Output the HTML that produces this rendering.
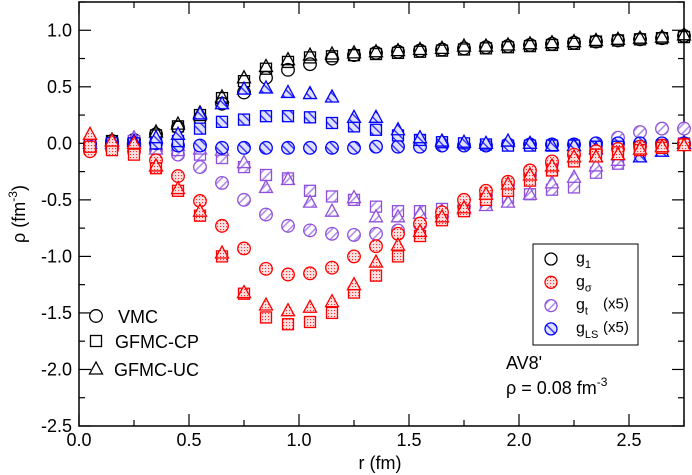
<!DOCTYPE html>
<html><head><meta charset="utf-8"><style>
html,body{margin:0;padding:0;background:#fff;}
svg{display:block;font-family:"Liberation Sans",sans-serif;}
</style></head><body>
<svg id="chart" width="692" height="475" viewBox="0 0 692 475">
<defs>
<pattern id="pDotR" width="3" height="3" patternUnits="userSpaceOnUse"><rect width="3" height="3" fill="#ffe0e0"/><rect x="1" y="1" width="1.1" height="1.1" fill="#ff3030"/></pattern>
<pattern id="pSlashP" width="6" height="6" patternUnits="userSpaceOnUse" patternTransform="rotate(45)"><rect width="6" height="6" fill="#fff"/><rect x="0" y="0" width="1.6" height="6" fill="#b090e8"/></pattern>
<pattern id="pBackB" width="6" height="6" patternUnits="userSpaceOnUse" patternTransform="rotate(-45)"><rect width="6" height="6" fill="#e0e0ff"/><rect x="0" y="0" width="1.4" height="6" fill="#3030ff"/></pattern>
</defs>
<g id="axes"></g>
<g id="marks"></g>
<g id="legends"></g>
</svg>
<script>
const rVals=[0.05,0.15,0.25,0.35,0.45,0.55,0.65,0.75,0.85,0.95,1.05,1.15,1.25,1.35,1.45,1.55,1.65,1.75,1.85,1.95,2.05,2.15,2.25,2.35,2.45,2.55,2.65,2.75];
const g1VMC=[-0.01,0.02,0.03,0.08,0.14,0.22,0.35,0.45,0.58,0.65,0.7,0.75,0.78,0.8,0.81,0.82,0.83,0.84,0.85,0.86,0.87,0.88,0.89,0.9,0.91,0.92,0.93,0.95];
const g1CP=[-0.03,0.02,0.02,0.07,0.15,0.25,0.4,0.55,0.66,0.72,0.76,0.77,0.78,0.79,0.8,0.81,0.82,0.83,0.84,0.85,0.86,0.87,0.88,0.9,0.91,0.92,0.93,0.94];
const g1UC=[0.0,0.03,0.04,0.1,0.17,0.27,0.41,0.58,0.68,0.74,0.78,0.79,0.8,0.81,0.82,0.83,0.84,0.86,0.86,0.87,0.88,0.89,0.9,0.91,0.92,0.93,0.94,0.96];
const gsVMC=[-0.07,-0.05,-0.07,-0.15,-0.29,-0.51,-0.73,-0.93,-1.11,-1.16,-1.15,-1.1,-1.0,-0.91,-0.8,-0.71,-0.61,-0.5,-0.42,-0.34,-0.24,-0.16,-0.1,-0.07,-0.05,-0.03,-0.02,-0.01];
const gsCP=[-0.03,-0.06,-0.1,-0.22,-0.42,-0.64,-1.0,-1.33,-1.54,-1.6,-1.58,-1.5,-1.32,-1.17,-1.0,-0.82,-0.68,-0.6,-0.5,-0.42,-0.33,-0.24,-0.16,-0.1,-0.08,-0.06,-0.04,-0.01];
const gsUC=[0.08,0.02,0.0,-0.2,-0.4,-0.6,-0.97,-1.32,-1.43,-1.48,-1.45,-1.4,-1.25,-1.05,-0.9,-0.78,-0.65,-0.57,-0.45,-0.36,-0.28,-0.2,-0.12,-0.12,-0.1,-0.05,-0.03,-0.02];
const gtVMC=[-0.05,-0.02,-0.03,-0.06,-0.1,-0.21,-0.35,-0.5,-0.63,-0.73,-0.77,-0.8,-0.81,-0.8,-0.77,-0.72,-0.65,-0.56,-0.46,-0.37,-0.28,-0.18,-0.1,-0.03,0.05,0.1,0.13,0.13];
const gtCP=[0.0,0.0,0.02,-0.03,-0.06,-0.1,-0.13,-0.21,-0.28,-0.31,-0.42,-0.47,-0.5,-0.56,-0.6,-0.6,-0.58,-0.55,-0.52,-0.48,-0.45,-0.41,-0.39,-0.26,-0.18,-0.08,-0.04,0.0];
const gtUC=[0.02,0.02,0.05,-0.05,-0.02,-0.05,-0.06,-0.17,-0.39,-0.32,-0.52,-0.6,-0.48,-0.65,-0.65,-0.62,-0.6,-0.58,-0.55,-0.52,-0.45,-0.35,-0.3,-0.2,-0.15,-0.05,-0.02,0.0];
const glsVMC=[0.0,0.0,0.0,0.0,-0.02,-0.02,-0.04,-0.04,-0.04,-0.04,-0.04,-0.04,-0.04,-0.03,-0.03,-0.03,-0.02,-0.02,-0.02,-0.01,-0.01,-0.01,-0.01,0.0,0.0,0.0,0.0,0.0];
const glsCP=[0.0,0.0,0.0,0.0,0.02,0.13,0.19,0.21,0.24,0.24,0.23,0.18,0.15,0.12,0.07,0.03,0.01,0.0,-0.01,-0.02,-0.02,-0.02,-0.02,-0.03,-0.03,-0.03,-0.02,-0.01];
const glsUC=[0.0,0.0,0.02,0.05,0.08,0.26,0.35,0.48,0.49,0.45,0.44,0.41,0.23,0.23,0.12,0.05,0.02,0.01,0.0,0.02,0.0,-0.02,-0.02,-0.05,-0.1,-0.12,-0.07,0.0];
const xTicks=["0.0","0.5","1.0","1.5","2.0","2.5"];
const yTicks=["-2.5","-2.0","-1.5","-1.0","-0.5","0.0","0.5","1.0"];

const NS="http://www.w3.org/2000/svg";
const X0=79,X1=684,Y0=2,Y1=426,XMIN=0,XMAX=2.75,YMIN=-2.5,YMAX=1.25;
function sx(v){return X0+(v-XMIN)/(XMAX-XMIN)*(X1-X0);}
function sy(v){return Y1-(v-YMIN)/(YMAX-YMIN)*(Y1-Y0);}
function mk(tag,attrs,parent){const e=document.createElementNS(NS,tag);for(const k in attrs)e.setAttribute(k,attrs[k]);parent.appendChild(e);return e;}
const axes=document.getElementById('axes'),marks=document.getElementById('marks'),leg=document.getElementById('legends');

const frame=mk('rect',{x:X0,y:Y0,width:X1-X0,height:Y1-Y0,fill:'none',stroke:'#000','stroke-width':1.5},axes);


for(let i=0;i<=11;i++){
  const v=i*0.25,x=sx(v),len=(i%2==0)?12:6;
  mk('line',{x1:x,y1:Y1,x2:x,y2:Y1-len,stroke:'#000','stroke-width':1.2},axes);
  mk('line',{x1:x,y1:Y0,x2:x,y2:Y0+len,stroke:'#000','stroke-width':1.2},axes);
}
xTicks.forEach(t=>{const el=mk('text',{x:sx(parseFloat(t)),y:446,'text-anchor':'middle','font-size':18},axes);el.textContent=t;

});
for(let i=0;i<=15;i++){
  const v=-2.5+i*0.25,y=sy(v),len=(i%2==0)?12:6;
  mk('line',{x1:X0,y1:y,x2:X0+len,y2:y,stroke:'#000','stroke-width':1.2},axes);
  mk('line',{x1:X1,y1:y,x2:X1-len,y2:y,stroke:'#000','stroke-width':1.2},axes);
}
yTicks.forEach(t=>{const el=mk('text',{x:72,y:sy(parseFloat(t))+6,'text-anchor':'end','font-size':18},axes);el.textContent=t;

});
const xt=mk('text',{x:380,y:469,'text-anchor':'middle','font-size':18},axes);xt.textContent='r (fm)';


const yt=mk('text',{x:0,y:0,transform:'translate(25,214) rotate(-90)','text-anchor':'middle','font-size':18},axes);
yt.innerHTML='ρ (fm<tspan dy="-8" font-size="12">-3</tspan><tspan dy="8">)</tspan>';



function marker(shape,x,y,col,fill,parent){
  if(shape==='c') return mk('circle',{cx:x,cy:y,r:6.3,fill:fill,stroke:col,'stroke-width':1.3},parent);
  if(shape==='s') return mk('rect',{x:x-5.5,y:y-5.5,width:11,height:11,fill:fill,stroke:col,'stroke-width':1.3},parent);
  return mk('polygon',{points:`${x},${y-7} ${x-6.5},${y+5} ${x+6.5},${y+5}`,fill:fill,stroke:col,'stroke-width':1.3},parent);
}
const series=[
  ['g1-vmc',g1VMC,'c','#000','none'],['g1-cp',g1CP,'s','#000','none'],['g1-uc',g1UC,'t','#000','none'],
  ['gt-vmc',gtVMC,'c','#9050dc','url(#pSlashP)'],['gt-cp',gtCP,'s','#9050dc','url(#pSlashP)'],['gt-uc',gtUC,'t','#9050dc','url(#pSlashP)'],
  ['gls-vmc',glsVMC,'c','#0000ff','url(#pBackB)'],['gls-cp',glsCP,'s','#0000ff','url(#pBackB)'],['gls-uc',glsUC,'t','#0000ff','url(#pBackB)'],
  ['gsigma-vmc',gsVMC,'c','#ff0000','url(#pDotR)'],['gsigma-cp',gsCP,'s','#ff0000','url(#pDotR)'],['gsigma-uc',gsUC,'t','#ff0000','url(#pDotR)']
];
series.forEach(s=>{
  const g=mk('g',{},marks);
  
  
  s[1].forEach((v,i)=>{const m=marker(s[2],sx(rVals[i]),sy(v),s[3],s[4],g);
  
  });
});

const lb=mk('rect',{x:533,y:244,width:105,height:101,fill:'#fff',stroke:'#000','stroke-width':1},leg);


const legItems=[['#000','none','g','1',''],['#ff0000','url(#pDotR)','g','σ',''],['#9050dc','url(#pSlashP)','g','t','(x5)'],['#0000ff','url(#pBackB)','g','LS','(x5)']];
legItems.forEach((it,i)=>{
  const y=259+i*23.3;
  const c=mk('circle',{cx:551,cy:y,r:6,fill:it[1],stroke:it[0],'stroke-width':1.3},leg);
  
  
  const t=mk('text',{x:576,y:y+4,'font-size':16},leg);
  t.innerHTML='g<tspan dy="5" font-size="11">'+it[3]+'</tspan>';
  
  
  if(it[4]){const t2=mk('text',{x:603,y:y+3,'font-size':15},leg);t2.textContent=it[4];
  
  }
});
const mItems=[['c','VMC',316,118],['s','GFMC-CP',341,115],['t','GFMC-UC',369,114]];
mItems.forEach(m=>{
  const mm=marker(m[0],96,m[2],'#000','none',leg);
  
  
  const t=mk('text',{x:m[3],y:m[2]+7,'font-size':18},leg);t.textContent=m[1];
  
  
});
const a1=mk('text',{x:506,y:369,'font-size':18},leg);a1.textContent="AV8'";


const a2=mk('text',{x:506,y:394,'font-size':18},leg);a2.innerHTML='ρ = 0.08 fm<tspan dy="-8" font-size="12">-3</tspan>';


</script>
</body></html>
